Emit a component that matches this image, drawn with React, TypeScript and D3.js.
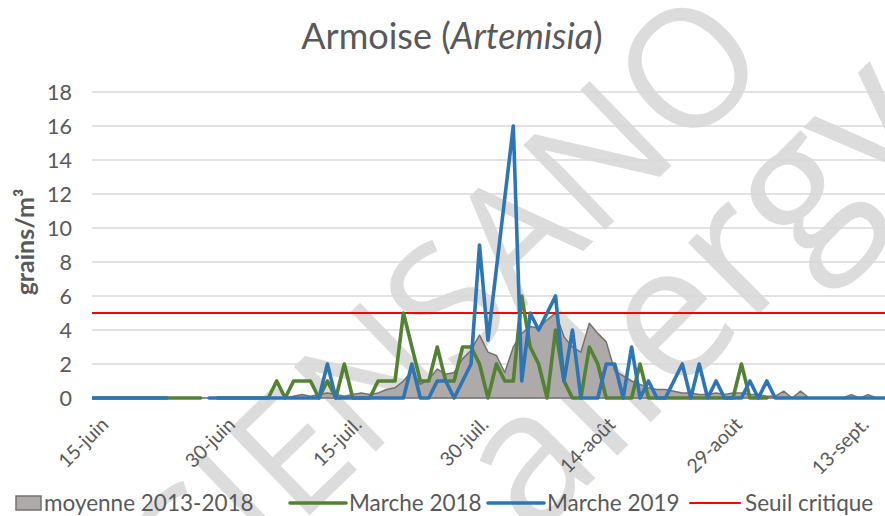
import React from "react";
import * as d3 from "d3";

// daily values, index 0 = 15 June
const tickLabels = ["15-juin", "30-juin", "15-juil.", "30-juil.", "14-août", "29-août", "13-sept."];
const tickStep = 15;
const yTicks = [0, 2, 4, 6, 8, 10, 12, 14, 16, 18];
const seuilCritique = 5;

const moyenne = [
  0, 0, 0, 0, 0, 0, 0, 0, 0, 0,
  0, 0, 0, 0, 0, 0, 0, 0, 0, 0,
  0, 0, 0, 0, 0.1, 0.2, 0.1, 0.2, 0.3, 0.2,
  0.1, 0.2, 0.3, 0.2, 0.3, 0.5, 0.6, 1.0, 1.6, 0.8,
  1.1, 1.7, 1.4, 1.5, 2.3, 2.8, 3.7, 2.7, 2.5, 1.5,
  3.0, 3.8, 4.2, 4.1, 4.6, 5.0, 3.6, 3.0, 2.7, 4.4,
  3.8, 3.3, 1.6, 1.3, 1.0, 0.8, 0.6, 0.5, 0.5, 0.4,
  0.3, 0.3, 0.2, 0.2, 0.3, 0.2, 0.3, 0.3, 0.2, 0.2,
  0.1, 0.1, 0.4, 0, 0.4, 0, 0, 0, 0, 0,
  0.2, 0, 0.2, 0, 0,
];

const marche2018 = [
  0, 0, 0, 0, 0, 0, 0, 0, 0, 0,
  0, 0, 0, 0, null, 0, 0, 0, 0, 0,
  0, 0, 1, 0, 1, 1, 1, 0, 1, 0,
  2, 0, 0, 0, 1, 1, 1, 5, 3, 1,
  1, 3, 1, 1, 3, 3, 2, 0, 2, 1,
  1, 6, 3, 2, 0, 4, 1, 0, 0, 3,
  2, 0, 0, 0, 0, 2, 0, 0, 0, 0,
  0, 0, 0, 0, 0, 0, 0, 2, 0, 0,
  0, null, null, null, null, null, null, null, null, null,
  null, null, null, null, null,
];

const marche2019 = [
  0, 0, 0, 0, 0, 0, 0, 0, 0, 0,
  null, null, null, null, 0, 0, 0, 0, 0, 0,
  0, 0, 0, 0, 0, 0, 0, 0, 2, 0,
  0, 0, 0, 0, 0, 0, 0, 0, 2, 0,
  0, 1, 1, 0, 1, 2, 9, 3.4, 7.6, 11.8,
  16, 1, 5, 4, 5, 6, 1, 4, 0, 0,
  0, 2, 2, 0, 3, 0, 1, 0, 0, 1,
  2, 0, 2, 0, 1, 0, 0, 0, 1, 0,
  1, 0, 0, 0, 0, 0, 0, 0, 0, 0,
  0, 0, 0, 0, 0,
];

const legendItems = [
  { label: "moyenne 2013-2018", kind: "area", color: "#aeaaaa", x: 16 },
  { label: "Marche 2018", kind: "line", color: "#548235", x: 290 },
  { label: "Marche 2019", kind: "line", color: "#2e75b6", x: 488 },
  { label: "Seuil critique", kind: "thin", color: "#ff0000", x: 690 },
];

const FONT = "Lato, 'Open Sans', sans-serif";
const TEXT = "#595959";

export default function App() {
  const width = 885;
  const height = 516;
  const plot = { left: 92, right: 885, top: 92, bottom: 398 };

  const x = d3.scaleLinear().domain([0, 94]).range([90.8, 885.1]);
  const y = d3.scaleLinear().domain([0, 18]).range([plot.bottom, plot.top]);

  const area = d3
    .area<number>()
    .x((_, i) => x(i))
    .y0(y(0))
    .y1((v) => y(v));

  const line = d3
    .line<number | null>()
    .defined((v) => v != null)
    .x((_, i) => x(i))
    .y((v) => y(v as number));

  const ticks = tickLabels.map((label, i) => ({ label, pos: x(i * tickStep) }));

  return (
    <svg
      width={width}
      height={height}
      style={{ position: "absolute", left: 0, top: 0, background: "#fff" }}
      fontFamily={FONT}
    >
      <defs>
        <clipPath id="plotClip">
          <rect x={plot.left} y={0} width={plot.right - plot.left} height={height} />
        </clipPath>
        <clipPath id="pageClip">
          <rect x={0} y={0} width={width} height={height} />
        </clipPath>
      </defs>

      {/* watermark */}
      <g fill="#dcdcdc" fontFamily="'Open Sans', sans-serif" clipPath="url(#pageClip)">
        <text transform="translate(410,338) rotate(-44)" textAnchor="middle" dy="0.35em" fontSize={165}>
          SCIENSANO
        </text>
        <text transform="translate(690,290) rotate(-45)" textAnchor="middle" dy="0.35em" fontSize={188}>
          allergy
        </text>
      </g>

      {/* title */}
      <text x={452} y={49} textAnchor="middle" fontSize={36} fill={TEXT}>
        Armoise (<tspan fontStyle="italic">Artemisia</tspan>)
      </text>

      {/* grid + y axis */}
      {yTicks.map((t) => (
        <g key={t}>
          <line x1={plot.left} x2={plot.right} y1={y(t)} y2={y(t)} stroke="#d9d9d9" strokeWidth={1.5} />
          <text x={72} y={y(t)} dy="0.35em" textAnchor="end" fontSize={21.5} fill={TEXT}>
            {t}
          </text>
        </g>
      ))}
      <text
        transform={`translate(25,${242}) rotate(-90)`}
        textAnchor="middle"
        dy="0.35em"
        fontSize={25}
        fontWeight="bold"
        fill={TEXT}
      >
        grains/m³
      </text>

      {/* series */}
      <g clipPath="url(#plotClip)">
        <path d={area(moyenne) || ""} fill="#aeaaaa" stroke="#767171" strokeWidth={1.5} strokeLinejoin="round" />
        <line x1={plot.left} x2={plot.right} y1={y(seuilCritique)} y2={y(seuilCritique)} stroke="#ff0000" strokeWidth={2} />
        <path d={line(marche2018) || ""} fill="none" stroke="#548235" strokeWidth={3.6} strokeLinejoin="round" strokeLinecap="round" />
        <path d={line(marche2019) || ""} fill="none" stroke="#2e75b6" strokeWidth={3.6} strokeLinejoin="round" strokeLinecap="round" />
      </g>

      {/* x axis labels */}
      {ticks.map((t) => (
        <text
          key={t.label}
          transform={`translate(${t.pos + 9},${416}) rotate(-45)`}
          textAnchor="end"
          dy="0.71em"
          fontSize={19.5}
          fill={TEXT}
        >
          {t.label}
        </text>
      ))}

      {/* legend */}
      {legendItems.map((d) => (
        <g key={d.label} transform={`translate(${d.x},503)`}>
          {d.kind === "area" ? (
            <rect x={0} y={-7} width={25} height={14} fill={d.color} stroke="#767171" strokeWidth={1.5} />
          ) : (
            <line x1={0} x2={d.kind === "thin" ? 50 : 56} y1={0} y2={0} stroke={d.color} strokeWidth={d.kind === "thin" ? 2 : 3.6} strokeLinecap="round" />
          )}
          <text x={d.kind === "area" ? 28 : d.kind === "thin" ? 55 : 59} y={0} dy="0.35em" fontSize={22.5} fill={TEXT}>
            {d.label}
          </text>
        </g>
      ))}
    </svg>
  );
}
